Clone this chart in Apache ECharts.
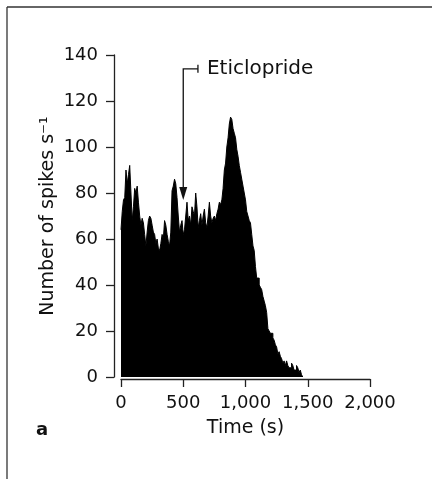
<!DOCTYPE html>
<html>
<head>
<meta charset="utf-8">
<script src="https://cdn.jsdelivr.net/npm/echarts@6/dist/echarts.min.js"></script>
<style>
  html, body { margin: 0; padding: 0; background: #fff; }
  #main { width: 432px; height: 479px; }
</style>
</head>
<body>
<div id="main"></div>
<script>
// spikes per second, 10 s bins starting at 0 s
var binWidth = 10;
var rates = [
  64, 72, 77, 78, 90, 84, 88, 92, 80, 68,
  74, 82, 80, 83, 76, 70, 66, 69, 67, 62,
  57, 63, 68, 70, 69, 66, 63, 62, 58, 60,
  56, 55, 58, 62, 60, 68, 66, 62, 59, 57,
  63, 81, 83, 86, 84, 78, 70, 63, 66, 68,
  62, 64, 70, 76, 68, 70, 66, 74, 72, 70,
  80, 74, 65, 68, 71, 66, 70, 73, 67, 65,
  70, 76, 70, 67, 69, 70, 68, 71, 73, 76,
  75, 77, 82, 90, 93, 100, 104, 110, 113, 112,
  108, 106, 104, 99, 96, 92, 89, 86, 83, 80,
  77, 72, 70, 68, 67, 62, 57, 55, 48, 43,
  43, 40, 39, 38, 35, 33, 31, 28, 21, 20,
  19, 19, 17, 16, 14, 13, 10, 11, 9, 8,
  6, 7, 5, 7, 5, 4, 4, 6, 5, 3,
  3, 5, 4, 2, 3, 1
];
var xTicks = [0, 500, 1000, 1500, 2000];
var yTicks = [0, 20, 40, 60, 80, 100, 120, 140];

// annotation: Eticlopride applied at 500 s
var drugName = 'Eticlopride';
var drugTime = 500;
var arrowTop = 134;
var arrowTip = 77;
var bracketEnd = 618;

var seriesData = rates.map(function (v, i) {
  return [i * binWidth, v];
});
seriesData.push([rates.length * binWidth, 0]);

var font = 'DejaVu Sans';
var myChart = echarts.init(document.getElementById('main'));

var option = {
  animation: false,
  backgroundColor: '#fff',
  grid: { left: 121, right: 62, top: 55, bottom: 102 },
  xAxis: {
    type: 'value',
    min: xTicks[0],
    max: xTicks[xTicks.length - 1],
    interval: 500,
    offset: 2,
    name: 'Time (s)',
    nameLocation: 'middle',
    nameGap: 40,
    nameTextStyle: { fontFamily: font, fontSize: 19, color: '#111' },
    splitLine: { show: false },
    axisLine: { onZero: false, lineStyle: { color: '#222', width: 1.3 } },
    axisTick: { length: 8, lineStyle: { color: '#222', width: 1.3 } },
    axisLabel: {
      margin: 15,
      fontFamily: font,
      fontSize: 18,
      color: '#111',
      formatter: function (v) { return v.toLocaleString('en-US'); }
    }
  },
  yAxis: {
    type: 'value',
    min: yTicks[0],
    max: yTicks[yTicks.length - 1],
    interval: 20,
    offset: 7,
    name: 'Number of spikes s\u207B\u00B9',
    nameLocation: 'middle',
    nameGap: 56,
    nameMoveOverlap: false,
    nameTextStyle: { fontFamily: font, fontSize: 19, color: '#111' },
    splitLine: { show: false },
    axisLine: { show: true, onZero: false, lineStyle: { color: '#222', width: 1.3 } },
    axisTick: { show: true, length: 8, lineStyle: { color: '#222', width: 1.3 } },
    axisLabel: { margin: 16, fontFamily: font, fontSize: 18, color: '#111' }
  },
  series: [{
    type: 'line',
    step: 'end',
    data: seriesData,
    symbol: 'none',
    lineStyle: { color: '#000', width: 1 },
    areaStyle: { color: '#000', opacity: 1 }
  }]
};
myChart.setOption(option);

// arrow and label drawn from data coordinates
var pTop = myChart.convertToPixel({ gridIndex: 0 }, [drugTime, arrowTop]);
var pTip = myChart.convertToPixel({ gridIndex: 0 }, [drugTime, arrowTip]);
var pEnd = myChart.convertToPixel({ gridIndex: 0 }, [bracketEnd, arrowTop]);

myChart.setOption({
  graphic: [
    // frame
    { type: 'line', shape: { x1: 7, y1: 7, x2: 432, y2: 7 }, style: { stroke: '#333', lineWidth: 1.3 } },
    { type: 'line', shape: { x1: 7, y1: 7, x2: 7, y2: 479 }, style: { stroke: '#333', lineWidth: 1.3 } },
    {
      type: 'polyline',
      shape: { points: [[pEnd[0], pTop[1]], [pTop[0], pTop[1]], [pTop[0], pTip[1] - 11]] },
      style: { stroke: '#111', lineWidth: 1.3, fill: null }
    },
    { type: 'line', shape: { x1: pEnd[0], y1: pTop[1] - 4, x2: pEnd[0], y2: pTop[1] + 4 }, style: { stroke: '#111', lineWidth: 1.3 } },
    {
      type: 'polygon',
      shape: { points: [[pTop[0] - 4, pTip[1] - 13], [pTop[0] + 4, pTip[1] - 13], [pTop[0], pTip[1]]] },
      style: { fill: '#111' }
    },
    {
      type: 'text', x: pEnd[0] + 9, y: pTop[1],
      style: { text: drugName, fontFamily: font, fontSize: 20, fill: '#111', verticalAlign: 'middle', align: 'left' }
    },
    {
      type: 'text', x: 36, y: 430,
      style: { text: 'a', fontFamily: font, fontSize: 18, fontWeight: 'bold', fill: '#111', verticalAlign: 'middle', align: 'left' }
    }
  ]
});
</script>
</body>
</html>
